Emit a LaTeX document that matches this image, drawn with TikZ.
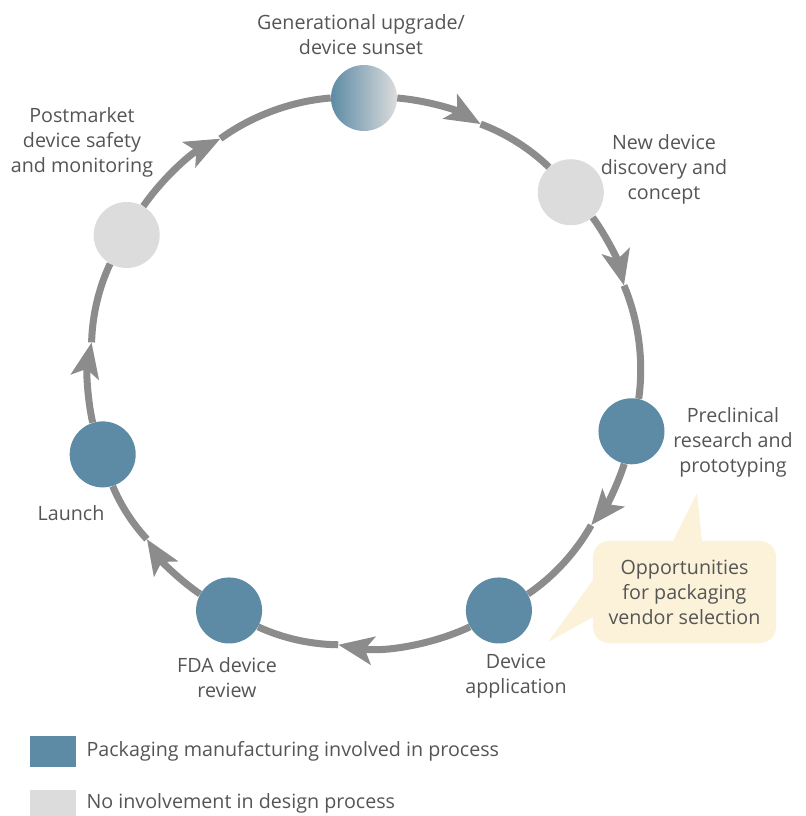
\documentclass[tikz,border=0pt]{standalone}
\usepackage{fontspec}
\setmainfont{Open Sans}
\usetikzlibrary{arrows.meta,positioning}

\definecolor{pkgblue}{HTML}{5D8BA5}
\definecolor{noinv}{HTML}{DCDCDC}
\definecolor{ringgray}{HTML}{8C8C8C}
\definecolor{txtgray}{HTML}{555555}
\definecolor{calloutfill}{HTML}{FBF2D9}

\begin{document}
\begin{tikzpicture}
[x=0.025cm,y=0.025cm,>={Stealth[length=0.875cm,width=0.7cm,inset=0.2cm]},
stage/.style={circle,minimum size=1.65cm,inner sep=0pt},
involved/.style={stage,fill=pkgblue},
notinvolved/.style={stage,fill=noinv},
ring/.style={draw=ringgray,line width=0.175cm,looseness=0.85},
caption/.style={text=txtgray,align=center,inner sep=0pt,font=\fontsize{14}{17.8}\selectfont},
keybox/.style={minimum width=1.15cm,inner sep=0pt},]
\useasboundingbox (-364,-444) rectangle (442,372);
%Ring radius
\def\R{274}

%Stages round the ring
\node (gen) at (90:\R)[stage,left color=pkgblue,right color=noinv] {};
\node (newdev) at (41:\R)[notinvolved] {};
\node (precl) at (-12.5:\R)[involved] {};
\node (devapp) at (-60.5:\R)[involved] {};
\node (fda) at (-119.5:\R)[involved] {};
\node (launch) at (-162.5:\R)[involved] {};
\node (postm) at (150:\R)[notinvolved] {};

%Arrow tips
\coordinate (t1) at (64.8:\R);
\coordinate (t2) at (18.4:\R);
\coordinate (t3) at (-34:\R);
\coordinate (t4) at (-95.4:\R);
\coordinate (t5) at (-142.4:\R);
\coordinate (t6) at (173.8:\R);
\coordinate (t7) at (121.6:\R);

%Drawing the ring
\draw[ring,->] (gen) to[bend left=12.6] (t1);
\draw[ring] (t1) to[bend left=11.9] (newdev);
\draw[ring,->] (newdev) to[bend left=11.3] (t2);
\draw[ring] (t2) to[bend left=15.45] (precl);
\draw[ring,->] (precl) to[bend left=10.75] (t3);
\draw[ring] (t3) to[bend left=13.25] (devapp);
\draw[ring,->] (devapp) to[bend left=17.45] (t4);
\draw[ring] (t4) to[bend left=12.05] (fda);
\draw[ring,->] (fda) to[bend left=11.45] (t5);
\draw[ring] (t5) to[bend left=10.05] (launch);
\draw[ring,->] (launch) to[bend left=11.85] (t6);
\draw[ring] (t6) to[bend left=11.9] (postm);
\draw[ring,->] (postm) to[bend left=14.2] (t7);
\draw[ring] (t7) to[bend left=15.8] (gen);

%Stage names
\node (gentxt) at (-3,337)[caption] {Generational upgrade/\\device sunset};
\node (newdevtxt) at (300,203)[caption] {New device\\discovery and\\concept};
\node (precltxt) at (369,-70)[caption] {Preclinical\\research and\\prototyping};
\node (devapptxt) at (152,-304)[caption] {Device\\application};
\node (fdatxt) at (-137,-306)[caption] {FDA device\\review};
\node (launchtxt) at (-293,-141)[caption] {Launch};
\node (postmtxt) at (-282,230)[caption] {Postmarket\\device safety\\and monitoring};

%Callout
\fill[calloutfill] (309,-169) -- (333,-121) -- (338,-169) -- cycle;
\fill[calloutfill] (229,-208) -- (184,-270) -- (229,-245) -- cycle;
\node (opp) at (320.5,-220)[caption,fill=calloutfill,rounded corners=0.4cm,minimum width=4.575cm,minimum height=2.55cm] {Opportunities\\for packaging\\vendor selection};

%Key
\node (pkgkey) at (-311,-379.5)[keybox,fill=pkgblue,minimum height=0.775cm] {};
\node (pkgtxt) [caption,right=0.25cm of pkgkey] {Packaging manufacturing involved in process};
\node (noinvkey) at (-311,-431)[keybox,fill=noinv,minimum height=0.65cm] {};
\node (noinvtxt) [caption,right=0.25cm of noinvkey] {No involvement in design process};
\end{tikzpicture}
\end{document}
